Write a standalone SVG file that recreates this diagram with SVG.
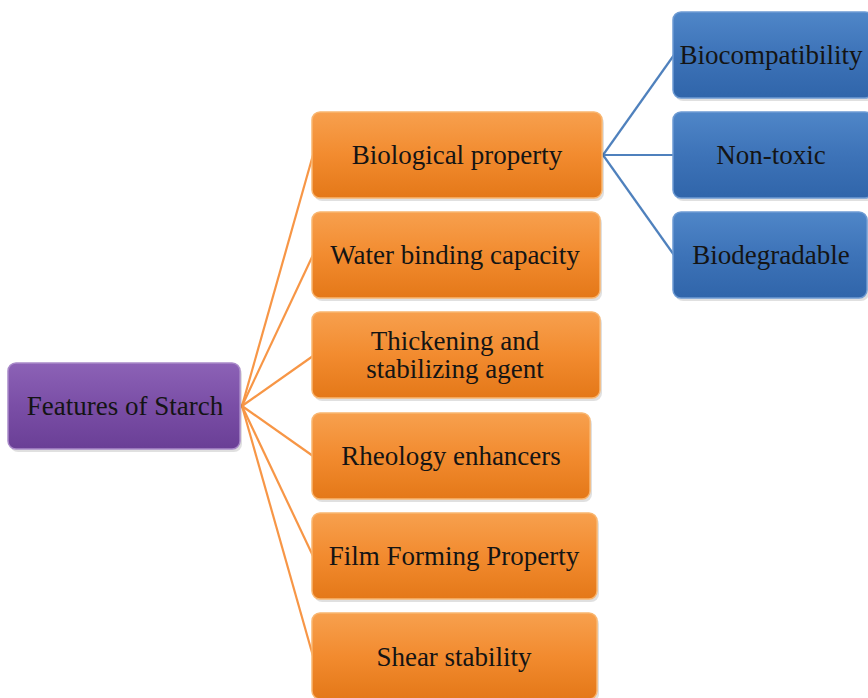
<svg xmlns="http://www.w3.org/2000/svg" width="868" height="698" viewBox="0 0 868 698">
<style>
  .lbl { font-family: "Liberation Serif", "Times New Roman", serif; font-size: 27px; fill: #141414; text-anchor: middle; }
  .oc { stroke: #F79646; stroke-width: 2.2; fill: none; }
  .bc { stroke: #4F81BD; stroke-width: 2.2; fill: none; }
  .orange { fill: url(#gOrange); stroke: #F9B670; stroke-width: 1.5; }
  .purple { fill: url(#gPurple); stroke: #A98AC9; stroke-width: 1.5; }
  .blue { fill: url(#gBlue); stroke: #6E9BD3; stroke-width: 1.5; }
  .shadow { fill: #000; opacity: 0.12; }
</style>
<defs>
  <linearGradient id="gOrange" x1="0" y1="0" x2="0" y2="1">
    <stop offset="0" stop-color="#F7A04E"/>
    <stop offset="0.5" stop-color="#F28B2F"/>
    <stop offset="1" stop-color="#E47818"/>
  </linearGradient>
  <linearGradient id="gPurple" x1="0" y1="0" x2="0" y2="1">
    <stop offset="0" stop-color="#8C62B6"/>
    <stop offset="0.5" stop-color="#7A4EA6"/>
    <stop offset="1" stop-color="#6A3F96"/>
  </linearGradient>
  <linearGradient id="gBlue" x1="0" y1="0" x2="0" y2="1">
    <stop offset="0" stop-color="#4F86C8"/>
    <stop offset="0.5" stop-color="#3D73B8"/>
    <stop offset="1" stop-color="#3065AA"/>
  </linearGradient>
</defs>
<rect width="868" height="698" fill="#ffffff"/>

<g id="connectors">
  <line class="oc" x1="242" y1="406" x2="313" y2="155"/>
  <line class="oc" x1="242" y1="406" x2="313" y2="255"/>
  <line class="oc" x1="242" y1="406" x2="313" y2="356"/>
  <line class="oc" x1="242" y1="406" x2="313" y2="456"/>
  <line class="oc" x1="242" y1="406" x2="313" y2="556"/>
  <line class="oc" x1="242" y1="406" x2="313" y2="656"/>
  <line class="bc" x1="603" y1="155" x2="674" y2="55"/>
  <line class="bc" x1="603" y1="155" x2="674" y2="155"/>
  <line class="bc" x1="603" y1="155" x2="674" y2="255"/>
</g>

<g id="n-features">
  <rect class="shadow" x="10" y="366" width="232" height="86" rx="8"/>
  <rect class="purple" x="8" y="363" width="232" height="86" rx="8"/>
  <text class="lbl" x="125" y="415">Features of Starch</text>
</g>

<g id="n-biological">
  <rect class="shadow" x="314" y="115" width="290" height="86" rx="8"/>
  <rect class="orange" x="312" y="112" width="290" height="86" rx="8"/>
  <text class="lbl" x="457" y="164">Biological property</text>
</g>
<g id="n-water">
  <rect class="shadow" x="314" y="215" width="288" height="86" rx="8"/>
  <rect class="orange" x="312" y="212" width="288" height="86" rx="8"/>
  <text class="lbl" x="455" y="264">Water binding capacity</text>
</g>
<g id="n-thickening">
  <rect class="shadow" x="314" y="315" width="288" height="86" rx="8"/>
  <rect class="orange" x="312" y="312" width="288" height="86" rx="8"/>
  <text class="lbl" x="455" y="350">Thickening and</text>
  <text class="lbl" x="455" y="378">stabilizing agent</text>
</g>
<g id="n-rheology">
  <rect class="shadow" x="314" y="416" width="278" height="86" rx="8"/>
  <rect class="orange" x="312" y="413" width="278" height="86" rx="8"/>
  <text class="lbl" x="451" y="465">Rheology enhancers</text>
</g>
<g id="n-film">
  <rect class="shadow" x="314" y="516" width="285" height="86" rx="8"/>
  <rect class="orange" x="312" y="513" width="285" height="86" rx="8"/>
  <text class="lbl" x="454" y="565">Film Forming Property</text>
</g>
<g id="n-shear">
  <rect class="shadow" x="314" y="616" width="285" height="86" rx="8"/>
  <rect class="orange" x="312" y="613" width="285" height="86" rx="8"/>
  <text class="lbl" x="454" y="666">Shear stability</text>
</g>

<g id="n-biocompat">
  <rect class="shadow" x="675" y="15" width="200" height="86" rx="8"/>
  <rect class="blue" x="673" y="12" width="200" height="86" rx="8"/>
  <text class="lbl" x="771" y="64">Biocompatibility</text>
</g>
<g id="n-nontoxic">
  <rect class="shadow" x="675" y="115" width="200" height="86" rx="8"/>
  <rect class="blue" x="673" y="112" width="200" height="86" rx="8"/>
  <text class="lbl" x="771" y="164">Non-toxic</text>
</g>
<g id="n-biodegradable">
  <rect class="shadow" x="675" y="215" width="194" height="86" rx="8"/>
  <rect class="blue" x="673" y="212" width="194" height="86" rx="8"/>
  <text class="lbl" x="771" y="264">Biodegradable</text>
</g>
</svg>
